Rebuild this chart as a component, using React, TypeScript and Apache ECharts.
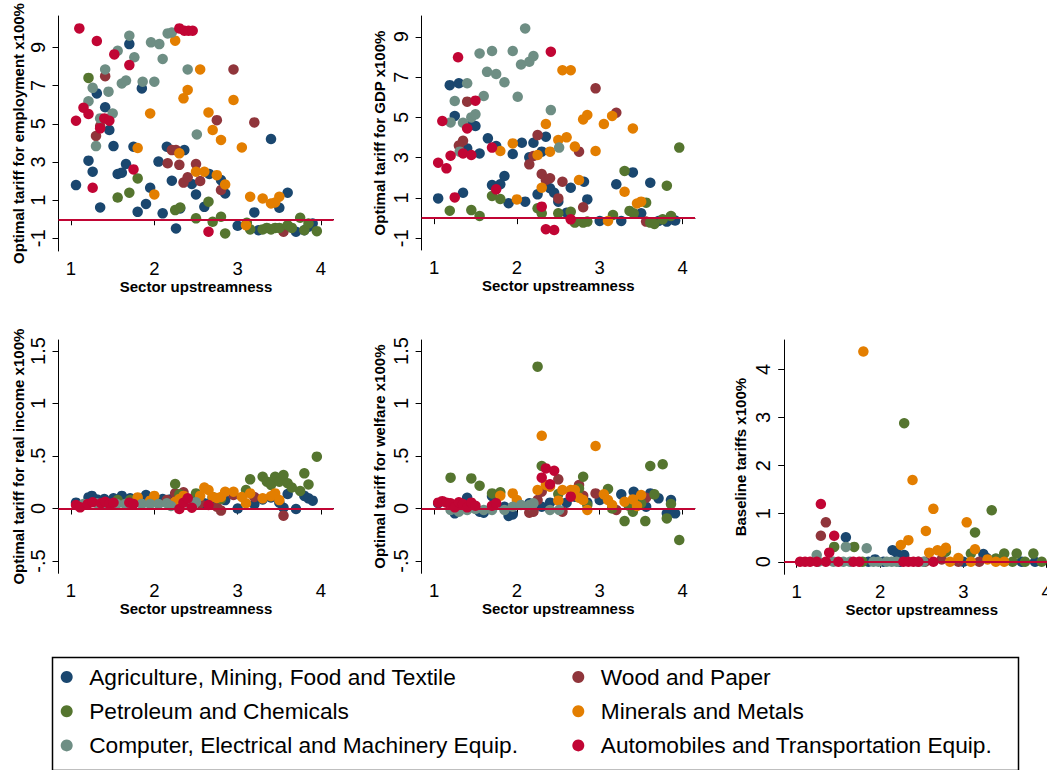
import React, { useEffect, useRef } from "react";
import * as echarts from "echarts";

// ---------- groups ----------
const groupNames = [
  "Agriculture, Mining, Food and Textile",
  "Wood and Paper",
  "Petroleum and Chemicals",
  "Minerals and Metals",
  "Computer, Electrical and Machinery Equip.",
  "Automobiles and Transportation Equip.",
];
const groupColors = ["#1a476f", "#90353b", "#55752f", "#e37e00", "#6e8e84", "#c10534"];

// ---------- panel 1: employment ----------
const empAgri = [[1.06,1.79],[1.21,3.07],[1.26,2.49],[1.31,6.59],[1.41,5.86],[1.46,4.67],[1.51,3.83],[1.35,0.62],[1.56,2.37],[1.61,2.44],[1.66,2.89],[1.70,9.17],[1.75,3.80],[1.85,6.85],[1.80,0.39],[1.90,0.80],[1.95,1.65],[2.05,3.02],[2.10,0.31],[2.15,3.80],[2.21,2.02],[2.26,-0.48],[2.31,0.57],[2.36,3.62],[2.45,1.85],[2.50,1.30],[2.60,0.65],[2.66,2.37],[2.80,2.05],[2.85,1.35],[3.00,-0.34],[3.20,0.36],[3.25,-0.57],[3.40,4.20],[3.50,0.60],[3.60,1.39],[3.70,-0.65],[3.80,-0.57],[3.90,-0.22],[3.85,-0.39]];
const empWood = [[1.41,7.49],[1.30,4.36],[1.35,4.88],[2.16,2.93],[2.21,3.62],[2.26,3.62],[2.30,2.85],[2.35,1.92],[2.40,2.20],[2.50,2.89],[2.55,2.00],[2.75,5.19],[2.80,1.53],[2.95,7.84],[3.20,5.07],[3.55,-0.65]];
const empPetro = [[1.21,7.40],[1.56,1.14],[1.70,1.39],[1.80,2.14],[2.25,0.48],[2.31,0.62],[2.50,0.05],[2.65,0.92],[2.70,-0.13],[2.80,0.13],[2.85,-0.74],[3.11,-0.18],[3.15,-0.53],[3.30,-0.53],[3.35,-0.45],[3.40,-0.53],[3.45,-0.45],[3.50,-0.45],[3.60,-0.31],[3.65,-0.45],[3.75,0.08],[3.80,-0.57],[3.85,-0.22],[3.95,-0.62]];
const empMinerals = [[2.25,9.35],[2.55,7.84],[2.40,6.77],[2.35,6.33],[2.95,6.24],[1.95,5.54],[2.65,5.59],[2.70,4.67],[2.80,4.15],[3.05,3.76],[1.80,3.73],[2.30,3.45],[2.50,2.49],[2.60,2.49],[2.75,2.31],[2.85,1.82],[2.00,1.30],[3.15,1.18],[3.30,1.09],[3.40,0.83],[3.45,0.88],[3.50,1.18],[3.10,-0.31]];
const empComputer = [[1.70,9.61],[1.56,8.82],[1.76,8.48],[1.41,7.84],[1.26,6.88],[1.21,6.18],[1.45,6.68],[1.61,7.11],[1.66,7.26],[1.86,7.20],[2.00,7.20],[1.50,5.54],[1.35,5.28],[1.30,3.83],[1.96,9.26],[2.06,9.17],[2.10,8.39],[2.16,9.73],[2.21,9.78],[2.40,7.84],[2.51,4.44]];
const empAuto = [[1.10,9.99],[1.31,9.33],[1.52,8.63],[1.70,8.07],[1.06,5.16],[1.15,5.84],[1.21,5.51],[1.40,5.28],[1.46,5.16],[1.35,4.76],[1.75,2.61],[1.26,1.65],[2.30,9.99],[2.36,9.87],[2.41,9.87],[2.46,9.87],[2.65,-0.65]];

// ---------- panel 2: GDP ----------
const gdpAgri = [[1.19,6.60],[1.30,6.69],[1.25,5.07],[1.45,4.65],[1.50,4.57],[1.40,3.46],[1.55,3.21],[1.65,3.96],[1.75,3.58],[2.06,3.74],[2.20,3.74],[2.35,4.04],[2.30,3.30],[2.15,3.02],[1.95,3.18],[1.05,0.98],[1.35,1.26],[1.70,1.64],[1.80,1.68],[1.85,2.09],[1.90,0.74],[2.10,0.82],[2.25,1.18],[2.40,1.48],[2.45,1.26],[2.50,0.82],[2.60,0.27],[2.65,1.51],[2.81,1.81],[2.85,0.93],[3.00,-0.14],[3.20,1.68],[3.26,-0.14],[3.40,2.27],[3.50,0.24],[3.61,1.76],[3.71,-0.14],[3.81,-0.17],[3.91,-0.12]];
const gdpWood = [[1.40,5.78],[1.35,3.84],[1.30,3.60],[2.25,4.12],[2.15,2.67],[2.20,3.08],[2.30,2.19],[2.35,1.89],[2.40,1.98],[2.55,1.81],[2.50,0.98],[2.75,3.30],[2.80,0.54],[2.95,6.44],[3.20,5.23],[3.56,-0.17]];
const gdpPetro = [[3.96,3.50],[3.30,2.34],[3.81,1.61],[1.19,0.37],[1.45,0.40],[1.55,0.11],[1.70,1.10],[1.80,0.95],[2.25,0.49],[2.30,0.24],[2.50,0.24],[2.65,0.32],[2.70,-0.22],[2.80,-0.22],[2.85,-0.17],[3.16,0.16],[3.36,0.36],[3.41,0.24],[3.56,0.77],[3.61,-0.22],[3.66,-0.29],[3.76,-0.06],[3.86,0.11]];
const gdpMinerals = [[2.55,7.34],[2.65,7.34],[2.80,4.90],[2.85,5.12],[3.05,4.67],[3.15,5.07],[3.40,4.45],[2.35,4.67],[2.50,3.88],[2.60,4.01],[2.70,3.55],[1.95,3.71],[1.80,3.33],[2.25,3.13],[2.40,3.30],[2.95,3.33],[2.75,1.89],[2.30,1.51],[2.00,0.93],[3.30,1.31],[3.45,0.73],[3.50,0.82],[3.10,-0.14]];
const gdpComputer = [[2.10,9.41],[1.55,8.17],[1.70,8.29],[1.95,8.29],[2.05,7.62],[2.15,7.76],[2.20,8.04],[1.64,7.26],[1.75,7.15],[1.85,6.74],[1.40,6.69],[1.60,6.06],[2.01,6.02],[1.25,5.81],[1.20,4.75],[1.35,4.73],[1.45,5.00],[1.50,5.15],[2.41,5.36],[2.51,3.50],[1.31,3.30]];
const gdpAuto = [[1.29,7.98],[2.41,8.26],[1.10,4.82],[1.50,5.83],[1.40,4.45],[1.05,2.75],[1.15,2.47],[1.20,3.10],[1.35,3.21],[1.45,3.13],[1.70,3.50],[1.75,1.43],[1.25,1.03],[2.30,0.57],[2.35,-0.55],[2.45,-0.59],[2.65,-0.06]];

// ---------- panel 3: real income ----------
const incAgri = [[1.06,0.056],[1.21,0.106],[1.25,0.12],[1.31,0.087],[1.40,0.09],[1.51,0.097],[1.61,0.12],[1.71,0.097],[1.90,0.128],[2.00,0.11],[2.10,0.09],[2.19,0.087],[2.50,0.08],[2.60,0.05],[2.70,0.09],[2.85,0.08],[3.00,0.0],[3.20,0.04],[3.30,0.087],[3.40,0.106],[3.50,0.055],[3.55,0.008],[3.60,0.138],[3.70,-0.005],[3.80,0.12],[3.85,0.097],[3.90,0.075]];
const incWood = [[2.25,0.144],[2.35,0.154],[2.55,0.05],[2.75,0.017],[2.80,-0.02],[2.95,0.128],[3.20,0.11],[3.55,-0.068],[1.40,0.056],[2.15,0.08]];
const incPetro = [[2.25,0.233],[2.30,0.135],[2.50,0.144],[3.15,0.278],[3.10,0.176],[3.30,0.303],[3.35,0.256],[3.40,0.224],[3.45,0.303],[3.50,0.256],[3.55,0.319],[3.60,0.24],[3.65,0.2],[3.75,0.167],[3.80,0.335],[3.85,0.229],[3.95,0.494],[1.56,0.08],[1.71,0.08],[2.70,0.11],[2.80,0.09]];
const incMinerals = [[1.80,0.106],[2.00,0.12],[1.95,0.075],[2.25,0.065],[2.30,0.09],[2.35,0.12],[2.55,0.12],[2.60,0.2],[2.65,0.176],[2.70,0.11],[2.75,0.1],[2.80,0.11],[2.85,0.16],[2.95,0.16],[3.05,0.11],[3.10,0.05],[3.15,0.144],[3.30,0.097],[3.40,0.117],[3.45,0.144],[3.50,0.08]];
const incComputer = [[1.15,0.043],[1.31,0.05],[1.43,0.05],[1.55,0.043],[1.65,0.043],[1.85,0.043],[1.95,0.043],[2.05,0.043],[2.15,0.05],[2.20,0.024],[2.40,0.056],[2.50,0.06]];
const incAuto = [[1.06,0.033],[1.11,0.011],[1.20,0.043],[1.26,0.06],[1.36,0.05],[1.41,0.065],[1.46,0.043],[1.51,0.055],[1.70,0.055],[1.75,0.043],[2.30,-0.005],[2.35,0.055],[2.40,0.097],[2.45,0.008],[2.65,0.033]];

// ---------- panel 4: welfare ----------
const welAgri = [[1.05,0.05],[1.25,-0.046],[1.40,0.103],[1.55,-0.03],[1.60,-0.04],[1.70,0.117],[1.85,0.017],[1.90,-0.071],[1.95,-0.056],[2.15,0.05],[2.30,0.017],[2.40,0.056],[2.60,0.056],[2.70,0.113],[2.85,0.056],[3.00,0.081],[3.26,0.135],[3.41,0.16],[3.56,0.017],[3.61,0.144],[3.71,0.097],[3.81,-0.046],[3.86,0.081],[3.91,-0.046]];
const welWood = [[2.50,0.278],[2.25,0.081],[2.30,0.16],[2.75,0.224],[2.80,0.122],[2.95,0.144],[2.15,-0.04],[2.20,-0.03],[2.55,-0.03],[3.20,-0.014],[3.56,0.103]];
const welPetro = [[2.25,1.351],[1.20,0.294],[1.45,0.287],[1.55,0.217],[1.70,0.144],[1.80,0.154],[2.30,0.405],[2.80,0.303],[3.10,0.186],[3.15,0.0],[3.30,-0.12],[3.35,0.027],[3.40,-0.03],[3.50,0.05],[3.55,-0.12],[3.61,0.405],[3.66,0.135],[3.76,0.421],[3.81,-0.094],[3.86,0.043],[3.96,-0.3],[2.50,0.138],[2.75,0.19],[2.85,0.033]];
const welMinerals = [[2.30,0.693],[2.95,0.595],[2.25,0.176],[2.35,0.224],[2.40,0.208],[2.55,0.176],[2.65,0.176],[2.70,0.176],[2.75,0.103],[2.80,0.081],[2.85,-0.014],[3.05,0.135],[3.10,0.081],[3.15,0.033],[3.30,0.065],[3.40,0.087],[3.45,0.024],[3.50,0.128],[1.80,0.122],[1.95,0.144],[2.00,0.081],[2.50,0.075]];
const welComputer = [[1.20,-0.014],[1.30,-0.03],[1.40,-0.014],[1.50,-0.005],[1.60,-0.014],[1.70,-0.014],[1.85,-0.014],[1.95,0.017],[2.05,0.033],[2.15,0.033],[2.20,0.05],[2.40,-0.014],[2.51,-0.014]];
const welAuto = [[2.30,0.294],[2.35,0.382],[2.45,0.36],[2.40,0.23],[2.65,0.113],[1.05,0.056],[1.10,0.07],[1.15,0.056],[1.20,0.05],[1.25,0.011],[1.30,0.06],[1.35,0.043],[1.40,0.011],[1.45,0.056],[1.50,0.027],[1.70,0.027],[1.75,0.05]];

// ---------- panel 5: baseline tariffs ----------
const baseAgri = [[1.59,0.51],[2.15,0.24],[2.20,0.19],[2.29,0.14],[1.94,0.05],[3.24,0.16],[3.28,0.08],[1.86,0],[3.00,0],[3.70,0],[3.86,0],[2.04,0],[2.24,0]];
const baseWood = [[1.35,0.82],[1.29,0.54],[2.74,0.05],[2.94,0],[3.19,0],[2.54,0]];
const basePetro = [[2.29,2.88],[3.34,1.07],[3.14,0.61],[1.45,0.31],[1.69,0.31],[3.09,0.17],[2.79,0.21],[3.39,0.07],[3.49,0.17],[3.64,0.17],[3.84,0.17],[3.59,0],[3.74,0],[3.94,0],[1.79,0]];
const baseMinerals = [[1.80,4.37],[2.39,1.70],[2.64,1.10],[3.04,0.82],[2.55,0.64],[2.34,0.45],[2.25,0.35],[3.14,0.26],[2.79,0.29],[2.69,0.24],[2.74,0.21],[2.59,0.19],[2.94,0.08],[2.84,0],[3.09,0],[3.29,0.05],[3.39,0],[3.49,0]];
const baseComputer = [[1.59,0.31],[1.84,0.28],[1.24,0.14],[1.26,0],[1.44,0],[1.56,0],[1.64,0],[1.92,0],[1.98,0],[2.08,0],[2.14,0],[2.20,0],[2.46,0],[2.52,0]];
const baseAuto = [[1.29,1.20],[1.45,0.54],[1.39,0.19],[1.04,0],[1.10,0],[1.16,0],[1.24,0],[1.35,0],[1.50,0],[1.68,0],[1.75,0],[2.28,0],[2.34,0],[2.40,0],[2.46,0],[2.64,0]];

// ---------- axes ----------
const xTicks = [1, 2, 3, 4];
const yTicksTop = [-1, 1, 3, 5, 7, 9];
const yTicksMid = [-0.5, 0, 0.5, 1, 1.5];
const yTicksBase = [0, 1, 2, 3, 4];
const yTitles = [
  "Optimal tariff for employment x100%",
  "Optimal tariff for GDP x100%",
  "Optimal tariff for real income x100%",
  "Optimal tariff for welfare x100%",
  "Baseline tariffs x100%",
];
const xTitle = "Sector upstreamness";

const panelData = [
  [empAgri, empWood, empPetro, empMinerals, empComputer, empAuto],
  [gdpAgri, gdpWood, gdpPetro, gdpMinerals, gdpComputer, gdpAuto],
  [incAgri, incWood, incPetro, incMinerals, incComputer, incAuto],
  [welAgri, welWood, welPetro, welMinerals, welComputer, welAuto],
  [baseAgri, baseWood, basePetro, baseMinerals, baseComputer, baseAuto],
];

const FONT = "'Liberation Sans', Arial, Helvetica, sans-serif";

export default function App() {
  const ref = useRef<HTMLDivElement>(null);
  useEffect(() => {
    if (!ref.current) return;
    const chart = echarts.init(ref.current, undefined, { renderer: "svg" });

    const grids = [
      { left: 58.5, top: 16, width: 275, height: 235 },
      { left: 421.6, top: 16, width: 273.4, height: 234 },
      { left: 58.5, top: 340, width: 275, height: 233.3 },
      { left: 421.6, top: 340, width: 273.4, height: 233.3 },
      { left: 784.2, top: 340, width: 275, height: 234.3 },
    ];
    const yRanges = [
      [-1.66, 10.64],
      [-1.58, 10.03],
      [-0.617, 1.605],
      [-0.617, 1.605],
      [-0.26, 4.61],
    ];
    const yTickSets = [yTicksTop, yTicksTop, yTicksMid, yTicksMid, yTicksBase];
    const yNameGaps = [33, 35, 33, 35, 36];

    const fmt = (v: number) => {
      if (v === 0.5) return ".5";
      if (v === -0.5) return "-.5";
      return String(v);
    };

    const axisCommon = {
      axisLine: { show: true, lineStyle: { color: "#000", width: 1 } },
      axisTick: { show: true, length: 6, lineStyle: { color: "#000", width: 1 } },
      splitLine: { show: false },
    };

    const xAxes = grids.map((_, i) => ({
      type: "value",
      gridIndex: i,
      min: 0.85,
      max: 4.15,
      ...axisCommon,
      axisTick: { ...axisCommon.axisTick, customValues: xTicks },
      axisLabel: {
        customValues: xTicks,
        fontSize: 18.5,
        fontFamily: FONT,
        color: "#000",
        margin: 8,
        formatter: fmt,
      },
      name: xTitle,
      nameLocation: "middle",
      nameGap: 27,
      nameTextStyle: { fontSize: 15, fontWeight: "bold", fontFamily: FONT, color: "#000" },
    }));

    const yAxes = grids.map((_, i) => ({
      type: "value",
      gridIndex: i,
      min: yRanges[i][0],
      max: yRanges[i][1],
      ...axisCommon,
      axisTick: { ...axisCommon.axisTick, customValues: yTickSets[i] },
      axisLabel: {
        customValues: yTickSets[i],
        rotate: 90,
        fontSize: 20,
        fontFamily: FONT,
        color: "#000",
        margin: 11,
        formatter: fmt,
      },
      name: yTitles[i],
      nameLocation: "middle",
      nameGap: yNameGaps[i],
      nameTextStyle: { fontSize: 15, fontWeight: "bold", fontFamily: FONT, color: "#000" },
    }));

    const series: any[] = [];
    panelData.forEach((groups, p) => {
      series.push({
        type: "scatter",
        name: "__zero" + p,
        xAxisIndex: p,
        yAxisIndex: p,
        data: [],
        silent: true,
        markLine: {
          silent: true,
          symbol: "none",
          label: { show: false },
          lineStyle: { color: "#c10534", width: 1.8, type: "solid" },
          data: [{ yAxis: 0 }],
        },
      });
      groups.forEach((d, g) => {
        series.push({
          type: "scatter",
          name: groupNames[g],
          xAxisIndex: p,
          yAxisIndex: p,
          data: d,
          symbol: "circle",
          symbolSize: 10.5,
          itemStyle: { color: groupColors[g], opacity: 1 },
        });
      });
    });

    const legendCommon = {
      orient: "vertical",
      top: 665,
      padding: 0,
      itemWidth: 35,
      itemHeight: 12,
      itemGap: 10.2,
      icon: "circle",
      selectedMode: false,
      textStyle: { fontSize: 22.7, lineHeight: 24, color: "#000", fontFamily: FONT },
    };

    chart.setOption({
      animation: false,
      backgroundColor: "#fff",
      color: groupColors,
      grid: grids,
      xAxis: xAxes,
      yAxis: yAxes,
      series,
      legend: [
        { ...legendCommon, left: 60.7, data: [groupNames[0], groupNames[2], groupNames[4]] },
        { ...legendCommon, left: 572.3, data: [groupNames[1], groupNames[3], groupNames[5]] },
      ],
      graphic: [
        {
          type: "rect",
          left: 50,
          top: 655,
          shape: { x: 0, y: 0, width: 966, height: 113 },
          style: { fill: "none", stroke: "#000", lineWidth: 1.5 },
          silent: true,
        },
      ],
    });

    return () => chart.dispose();
  }, []);

  return (
    <div style={{ position: "fixed", left: 0, top: 0, width: 1047, height: 770, overflow: "hidden", background: "#fff" }}>
      <div ref={ref} style={{ width: 1080, height: 770 }} />
    </div>
  );
}
